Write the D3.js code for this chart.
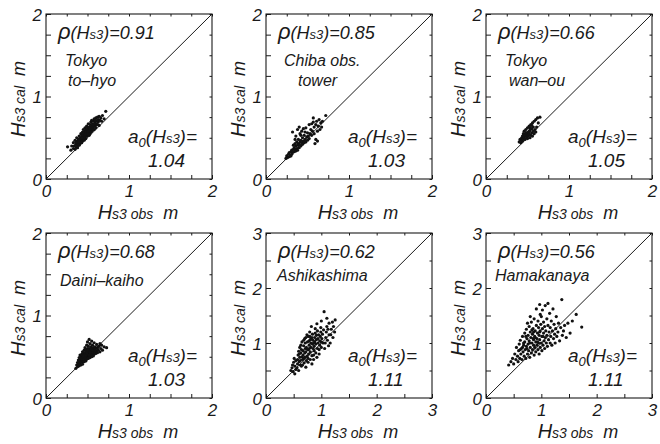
<!DOCTYPE html>
<html>
<head>
<meta charset="utf-8">
<script src="https://cdn.jsdelivr.net/npm/d3@7"></script>
<style>
  body { margin: 0; background: #fff; }
  svg { display: block; font-family: "Liberation Sans", Arial, sans-serif; }
</style>
</head>
<body>
<svg id="chart" width="660" height="444"></svg>
<script>
// [obs, cal] pairs
const tohyo = [[0.26,0.39],[0.30,0.35],[0.31,0.40],[0.33,0.37],[0.33,0.44],[0.34,0.40],[0.35,0.36],[0.35,0.47],[0.36,0.42],[0.36,0.39],[0.37,0.45],[0.37,0.50],[0.38,0.41],[0.38,0.46],[0.38,0.38],[0.39,0.48],[0.39,0.43],[0.40,0.52],[0.40,0.45],[0.40,0.41],[0.41,0.47],[0.41,0.50],[0.41,0.43],[0.42,0.55],[0.42,0.46],[0.42,0.49],[0.43,0.44],[0.43,0.52],[0.43,0.48],[0.44,0.57],[0.44,0.50],[0.44,0.46],[0.45,0.53],[0.45,0.49],[0.45,0.60],[0.46,0.52],[0.46,0.47],[0.46,0.56],[0.47,0.58],[0.47,0.51],[0.47,0.62],[0.48,0.54],[0.48,0.49],[0.48,0.59],[0.49,0.56],[0.49,0.52],[0.49,0.64],[0.50,0.58],[0.50,0.53],[0.50,0.62],[0.51,0.55],[0.51,0.60],[0.51,0.67],[0.52,0.57],[0.52,0.63],[0.52,0.53],[0.53,0.59],[0.53,0.66],[0.53,0.55],[0.54,0.62],[0.54,0.69],[0.55,0.58],[0.55,0.64],[0.55,0.71],[0.56,0.61],[0.56,0.67],[0.57,0.63],[0.57,0.70],[0.58,0.60],[0.58,0.66],[0.58,0.73],[0.59,0.64],[0.59,0.69],[0.60,0.67],[0.60,0.74],[0.60,0.62],[0.61,0.70],[0.62,0.66],[0.62,0.75],[0.63,0.69],[0.63,0.72],[0.64,0.65],[0.64,0.76],[0.65,0.71],[0.66,0.74],[0.67,0.70],[0.68,0.77],[0.70,0.73],[0.72,0.82],[0.44,0.53],[0.46,0.50],[0.48,0.57],[0.50,0.55],[0.52,0.60],[0.54,0.57],[0.56,0.64],[0.40,0.48],[0.38,0.43],[0.36,0.45],[0.57,0.66],[0.59,0.72],[0.61,0.66],[0.47,0.54],[0.49,0.60],[0.51,0.58],[0.53,0.62],[0.45,0.56],[0.43,0.50],[0.41,0.45],[0.39,0.45],[0.55,0.61],[0.57,0.60],[0.62,0.71]]

const chiba = [[0.24,0.25],[0.25,0.28],[0.26,0.26],[0.27,0.30],[0.28,0.27],[0.28,0.32],[0.29,0.29],[0.30,0.33],[0.30,0.28],[0.31,0.35],[0.31,0.30],[0.32,0.57],[0.32,0.32],[0.33,0.36],[0.33,0.41],[0.34,0.33],[0.34,0.38],[0.35,0.36],[0.35,0.43],[0.36,0.34],[0.36,0.40],[0.36,0.52],[0.37,0.37],[0.37,0.45],[0.38,0.41],[0.38,0.60],[0.38,0.35],[0.39,0.43],[0.39,0.48],[0.40,0.38],[0.40,0.42],[0.40,0.63],[0.41,0.45],[0.41,0.55],[0.42,0.40],[0.42,0.47],[0.43,0.44],[0.43,0.58],[0.44,0.42],[0.44,0.50],[0.45,0.46],[0.45,0.61],[0.46,0.44],[0.46,0.53],[0.47,0.48],[0.47,0.57],[0.48,0.45],[0.48,0.62],[0.49,0.51],[0.50,0.47],[0.50,0.56],[0.51,0.52],[0.52,0.49],[0.52,0.66],[0.53,0.55],[0.54,0.60],[0.55,0.53],[0.55,0.67],[0.56,0.58],[0.57,0.69],[0.58,0.55],[0.58,0.63],[0.59,0.43],[0.60,0.66],[0.60,0.48],[0.61,0.70],[0.62,0.58],[0.62,0.46],[0.63,0.64],[0.64,0.72],[0.65,0.60],[0.66,0.68],[0.67,0.63],[0.68,0.70],[0.72,0.77],[0.57,0.74],[0.35,0.48],[0.42,0.53]]

const wanou = [[0.40,0.45],[0.41,0.48],[0.42,0.44],[0.43,0.50],[0.43,0.47],[0.44,0.52],[0.44,0.46],[0.45,0.55],[0.45,0.49],[0.46,0.51],[0.46,0.58],[0.47,0.48],[0.47,0.54],[0.48,0.60],[0.48,0.52],[0.49,0.56],[0.49,0.50],[0.50,0.62],[0.50,0.54],[0.50,0.49],[0.51,0.57],[0.51,0.52],[0.52,0.64],[0.52,0.55],[0.53,0.50],[0.53,0.59],[0.54,0.53],[0.54,0.66],[0.55,0.56],[0.55,0.61],[0.56,0.52],[0.56,0.68],[0.57,0.58],[0.57,0.63],[0.58,0.55],[0.58,0.70],[0.59,0.60],[0.60,0.57],[0.60,0.72],[0.61,0.63],[0.62,0.74],[0.63,0.68],[0.65,0.75],[0.48,0.56],[0.52,0.58],[0.55,0.65],[0.46,0.53],[0.53,0.62]]

const daini = [[0.36,0.36],[0.37,0.40],[0.38,0.38],[0.38,0.43],[0.39,0.41],[0.39,0.46],[0.40,0.39],[0.40,0.44],[0.40,0.49],[0.41,0.42],[0.41,0.47],[0.41,0.52],[0.42,0.45],[0.42,0.50],[0.42,0.40],[0.43,0.48],[0.43,0.53],[0.43,0.44],[0.44,0.51],[0.44,0.46],[0.44,0.56],[0.45,0.49],[0.45,0.54],[0.45,0.44],[0.46,0.52],[0.46,0.58],[0.46,0.47],[0.47,0.50],[0.47,0.55],[0.47,0.61],[0.48,0.53],[0.48,0.48],[0.48,0.58],[0.49,0.51],[0.49,0.56],[0.49,0.64],[0.50,0.54],[0.50,0.49],[0.50,0.60],[0.50,0.68],[0.51,0.52],[0.51,0.57],[0.51,0.63],[0.52,0.50],[0.52,0.55],[0.52,0.60],[0.52,0.71],[0.53,0.53],[0.53,0.58],[0.53,0.66],[0.54,0.51],[0.54,0.56],[0.54,0.62],[0.55,0.54],[0.55,0.59],[0.55,0.69],[0.56,0.52],[0.56,0.57],[0.56,0.64],[0.57,0.55],[0.57,0.61],[0.58,0.53],[0.58,0.58],[0.58,0.67],[0.59,0.56],[0.59,0.62],[0.60,0.54],[0.60,0.60],[0.61,0.57],[0.61,0.65],[0.62,0.55],[0.62,0.61],[0.63,0.58],[0.64,0.63],[0.65,0.56],[0.66,0.60],[0.68,0.58],[0.70,0.62],[0.73,0.61],[0.44,0.41],[0.46,0.44],[0.48,0.45],[0.49,0.47],[0.51,0.48],[0.53,0.49],[0.55,0.50],[0.57,0.51],[0.47,0.52],[0.50,0.57],[0.53,0.55],[0.45,0.51],[0.49,0.54],[0.52,0.52],[0.54,0.59],[0.57,0.58],[0.59,0.59],[0.63,0.62],[0.65,0.66],[0.67,0.64]]

const ashika = [[0.45,0.50],[0.47,0.55],[0.48,0.60],[0.49,0.48],[0.50,0.65],[0.51,0.72],[0.52,0.58],[0.52,0.44],[0.54,0.52],[0.54,0.68],[0.56,0.55],[0.57,0.62],[0.57,0.70],[0.58,0.78],[0.59,0.85],[0.59,0.50],[0.60,0.66],[0.61,0.74],[0.61,0.92],[0.62,0.60],[0.63,0.82],[0.63,0.96],[0.64,0.58],[0.64,0.88],[0.65,1.02],[0.66,0.60],[0.66,0.70],[0.67,0.78],[0.67,0.86],[0.68,0.95],[0.68,1.05],[0.69,0.64],[0.70,0.74],[0.70,0.82],[0.71,0.90],[0.71,1.00],[0.72,1.10],[0.72,0.56],[0.73,0.68],[0.73,0.92],[0.74,1.15],[0.74,0.76],[0.75,1.02],[0.76,0.65],[0.76,0.72],[0.77,0.80],[0.77,0.88],[0.78,0.96],[0.78,1.04],[0.79,1.12],[0.79,1.20],[0.80,0.70],[0.80,0.84],[0.81,0.92],[0.81,1.00],[0.82,1.08],[0.82,1.30],[0.83,0.62],[0.83,0.77],[0.84,0.98],[0.84,1.16],[0.85,0.90],[0.85,1.05],[0.86,0.70],[0.86,0.78],[0.87,0.86],[0.87,0.94],[0.88,1.02],[0.88,1.10],[0.89,1.18],[0.89,1.26],[0.90,0.82],[0.90,0.98],[0.91,1.06],[0.91,1.14],[0.92,1.35],[0.92,0.74],[0.93,0.90],[0.93,1.22],[0.94,1.00],[0.94,1.08],[0.96,0.80],[0.96,0.88],[0.97,0.96],[0.97,1.04],[0.98,1.12],[0.99,1.20],[0.99,1.28],[1.00,1.40],[1.00,0.92],[1.01,1.08],[1.02,1.16],[1.03,1.00],[1.05,1.57],[1.04,1.24],[1.06,0.90],[1.07,1.00],[1.08,1.10],[1.09,1.20],[1.10,1.30],[1.10,1.45],[1.11,1.05],[1.12,1.25],[1.13,0.95],[1.14,1.15],[1.14,1.36],[1.16,1.00],[1.17,1.15],[1.18,1.25],[1.20,1.38],[1.21,1.10],[1.22,1.30],[1.24,1.20],[1.25,1.42],[0.62,0.68],[0.65,0.75],[0.68,0.72],[0.72,0.84],[0.75,0.88],[0.78,0.90],[0.80,1.06],[0.83,1.10],[0.86,1.00],[0.60,0.80],[0.70,1.08],[0.76,1.12],[0.95,1.15],[1.00,1.02]]

const hamaka = [[0.41,0.60],[0.45,0.66],[0.48,0.72],[0.50,0.62],[0.52,0.80],[0.54,0.70],[0.55,0.92],[0.57,0.76],[0.58,0.66],[0.59,0.86],[0.60,0.98],[0.61,0.72],[0.62,1.05],[0.63,0.80],[0.64,0.90],[0.65,0.70],[0.66,1.12],[0.67,0.84],[0.68,0.96],[0.69,0.76],[0.70,1.18],[0.70,1.02],[0.71,0.88],[0.72,0.72],[0.73,1.25],[0.73,0.94],[0.74,1.08],[0.75,0.80],[0.76,1.14],[0.76,0.98],[0.77,0.86],[0.78,1.30],[0.78,1.04],[0.79,0.74],[0.80,1.20],[0.80,0.92],[0.81,1.10],[0.82,0.82],[0.82,1.38],[0.83,1.00],[0.84,1.16],[0.84,0.88],[0.85,1.26],[0.86,0.96],[0.86,1.06],[0.87,0.78],[0.87,1.44],[0.88,1.12],[0.88,0.92],[0.89,1.22],[0.90,1.02],[0.90,0.84],[0.91,1.32],[0.91,1.62],[0.92,1.08],[0.92,0.96],[0.93,1.18],[0.94,0.88],[0.94,1.40],[0.95,1.00],[0.95,1.28],[0.96,1.14],[0.96,0.80],[0.97,1.70],[0.97,1.06],[0.98,1.22],[0.98,0.92],[0.99,1.34],[1.00,1.00],[1.00,1.48],[1.01,1.12],[1.01,0.86],[1.02,1.26],[1.02,1.60],[1.03,0.96],[1.04,1.18],[1.04,1.38],[1.05,1.04],[1.06,1.30],[1.06,0.90],[1.07,1.68],[1.07,1.10],[1.08,1.22],[1.09,1.00],[1.10,1.44],[1.10,1.14],[1.11,0.94],[1.12,1.32],[1.12,1.72],[1.13,1.06],[1.14,1.20],[1.15,1.54],[1.16,1.00],[1.16,1.28],[1.17,1.12],[1.18,1.40],[1.19,0.96],[1.20,1.22],[1.21,1.62],[1.22,1.08],[1.23,1.34],[1.24,1.16],[1.25,1.00],[1.26,1.26],[1.27,1.48],[1.28,1.12],[1.30,1.20],[1.31,1.36],[1.33,1.04],[1.35,1.28],[1.37,1.79],[1.38,1.14],[1.40,1.22],[1.42,1.32],[1.45,1.10],[1.48,1.36],[1.52,1.18],[1.56,1.40],[1.63,1.52],[1.73,1.29],[0.62,0.88],[0.66,0.92],[0.68,1.00],[0.72,1.12],[0.74,0.90],[0.79,1.00],[0.83,1.24],[0.85,1.08],[0.89,1.10],[0.93,1.02],[0.97,1.20],[1.03,1.12],[0.75,1.36],[0.80,1.48],[0.86,1.20],[0.98,1.52]]

const stationData = [tohyo, chiba, wanou, daini, ashika, hamaka]
const stationNames = [["Tokyo", "to\u2013hyo"], ["Chiba obs.", "tower"], ["Tokyo", "wan\u2013ou"], ["Daini\u2013kaiho"], ["Ashikashima"], ["Hamakanaya"]]
const rhoValues = ["0.91", "0.85", "0.66", "0.68", "0.62", "0.56"]
const a0Values = ["1.04", "1.03", "1.05", "1.03", "1.11", "1.11"]
const axisMax = [2, 2, 2, 2, 3, 3]

// layout
const colLeft = [46, 266, 486]
const rowTop = [14, 233]
const boxW = 166, boxH = 165
const nameX = [[19, 22], [18, 32], [19, 23], [14], [11], [9]]
const ink = "#1a1a1a"

const svg = d3.select("#chart")

stationData.forEach((pts, i) => {
  const x0 = colLeft[i % 3], y0 = rowTop[Math.floor(i / 3)]
  const max = axisMax[i]
  const step = max === 2 ? 0.25 : 0.5
  const ticks = d3.range(0, max + step / 2, step)
  const majors = d3.range(0, max + 1)

  const x = d3.scaleLinear().domain([0, max]).range([0, boxW])
  const y = d3.scaleLinear().domain([0, max]).range([boxH, 0])

  const g = svg.append("g").attr("transform", "translate(" + x0 + "," + y0 + ")")

  const fmt = d => (majors.includes(d) ? d : "")

  const yAxis = g.append("g")
    .call(d3.axisLeft(y).tickValues(ticks).tickSizeInner(-5).tickSizeOuter(0).tickPadding(4).tickFormat(fmt))
  g.append("g")
    .attr("transform", "translate(0," + boxH + ")")
    .call(d3.axisBottom(x).tickValues(ticks).tickSizeInner(-4).tickSizeOuter(0).tickPadding(6).tickFormat(fmt))
  // small ticks on top and right
  g.append("g")
    .call(d3.axisTop(x).tickValues(ticks).tickSizeInner(-2.5).tickSizeOuter(0).tickFormat(""))
  g.append("g")
    .attr("transform", "translate(" + boxW + ",0)")
    .call(d3.axisRight(y).tickValues(ticks).tickSizeInner(-2.5).tickSizeOuter(0).tickFormat(""))

  g.selectAll(".domain").remove()
  g.selectAll(".tick line").attr("stroke", ink).attr("stroke-width", 1)
  g.selectAll(".tick text")
    .attr("fill", ink)
    .style("font-size", "17px")
    .style("font-style", "italic")
  yAxis.selectAll(".tick text").attr("dy", "0.36em")

  g.append("rect")
    .attr("width", boxW).attr("height", boxH)
    .attr("fill", "none").attr("stroke", ink).attr("stroke-width", 1.1)

  g.append("line")
    .attr("x1", x(0)).attr("y1", y(0)).attr("x2", x(max)).attr("y2", y(max))
    .attr("stroke", ink).attr("stroke-width", 1)

  g.selectAll("circle")
    .data(pts)
    .enter()
    .append("circle")
    .attr("cx", d => x(d[0]))
    .attr("cy", d => y(d[1]))
    .attr("r", 1.6)
    .attr("fill", "#111")

  // rho annotation
  const rho = g.append("text")
    .attr("x", 12).attr("y", 25)
    .attr("fill", ink)
    .style("font-style", "italic")
    .style("font-size", "18px")
  rho.append("tspan").text("\u03c1").style("font-size", "22px")
  rho.append("tspan").text("(H")
  rho.append("tspan").text("s3").style("font-size", "13px")
  rho.append("tspan").text(")=" + rhoValues[i])

  // station name
  const lines = stationNames[i]
  const baseY = lines.length === 2 ? 52 : (max === 2 ? 53 : 48)
  lines.forEach((t, k) => {
    g.append("text")
      .attr("x", nameX[i][k]).attr("y", baseY + k * 20)
      .attr("fill", ink)
      .style("font-style", "italic")
      .style("font-size", "16px")
      .text(t)
  })

  // a0 annotation
  const a0 = g.append("text")
    .attr("x", 82).attr("y", 129)
    .attr("fill", ink)
    .style("font-style", "italic")
    .style("font-size", "19px")
  a0.append("tspan").text("a")
  a0.append("tspan").text("0").style("font-size", "13px").attr("dy", 4)
  a0.append("tspan").text("(H").attr("dy", -4)
  a0.append("tspan").text("s3").style("font-size", "13px")
  a0.append("tspan").text(")=")
  g.append("text")
    .attr("x", 102).attr("y", 153)
    .attr("fill", ink)
    .style("font-style", "italic")
    .style("font-size", "19px")
    .text(a0Values[i])

  // axis titles
  const xt = g.append("text")
    .attr("x", 92).attr("y", boxH + 40)
    .attr("text-anchor", "middle")
    .attr("fill", ink)
    .style("font-style", "italic")
    .style("font-size", "20px")
  xt.append("tspan").text("H")
  xt.append("tspan").text("s3 obs").style("font-size", "14px")
  xt.append("tspan").text("\u00a0\u00a0m").style("font-size", "18px")

  const yt = g.append("text")
    .attr("transform", "translate(-21," + 85 + ") rotate(-90)")
    .attr("text-anchor", "middle")
    .attr("fill", ink)
    .style("font-style", "italic")
    .style("font-size", "20px")
  yt.append("tspan").text("H")
  yt.append("tspan").text("s3 cal").style("font-size", "14px")
  yt.append("tspan").text("\u00a0\u00a0m").style("font-size", "18px")
})
</script>
</body>
</html>
